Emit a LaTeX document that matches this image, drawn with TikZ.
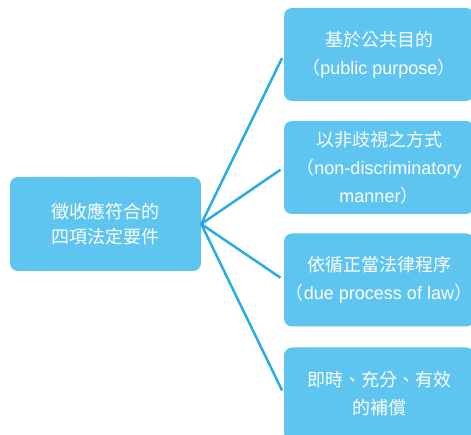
\documentclass[tikz,border=0pt]{standalone}
\usepackage{fontspec}
\setmainfont{Liberation Sans}
\newfontfamily\cjk{Noto Sans CJK TC}
\definecolor{boxblue}{RGB}{94,196,240}
\definecolor{lineblue}{RGB}{42,172,226}
\begin{document}
\begin{tikzpicture}[x=1pt,y=-1pt,
  box/.style={fill=boxblue, rounded corners=8pt, draw=none, text=white, align=center, inner sep=0pt},
  mainbox/.style={box, minimum width=191pt, minimum height=94pt, font=\fontsize{18}{25}\selectfont},
  sidebox/.style={box, minimum width=190pt, minimum height=93pt, font=\fontsize{18}{28}\selectfont},
  conn/.style={draw=lineblue, line width=2.5pt, shorten >=4pt}]
\useasboundingbox (0,0) rectangle (471,435);
\clip (0,0) rectangle (471,435);
\node[mainbox] (c) at (105.5,224) {\cjk 徵收應符合的\\\cjk 四項法定要件};
\node[sidebox] (r1) at (379,54.5) {\cjk 基於公共目的\\{\cjk （}public purpose{\cjk ）}};
\node[sidebox] (r2) at (379,167.5) {\cjk 以非歧視之方式\\{\cjk （}non-discriminatory\\manner{\cjk ）}};
\node[sidebox] (r3) at (379,280) {\cjk 依循正當法律程序\\{\cjk （}due process of law{\cjk ）}};
\node[sidebox] (r4) at (379,394) {\cjk 即時、充分、有效\\\cjk 的補償};
\foreach \r in {r1,r2,r3,r4} \draw[conn] (c.east) -- (\r.west);
\end{tikzpicture}
\end{document}
